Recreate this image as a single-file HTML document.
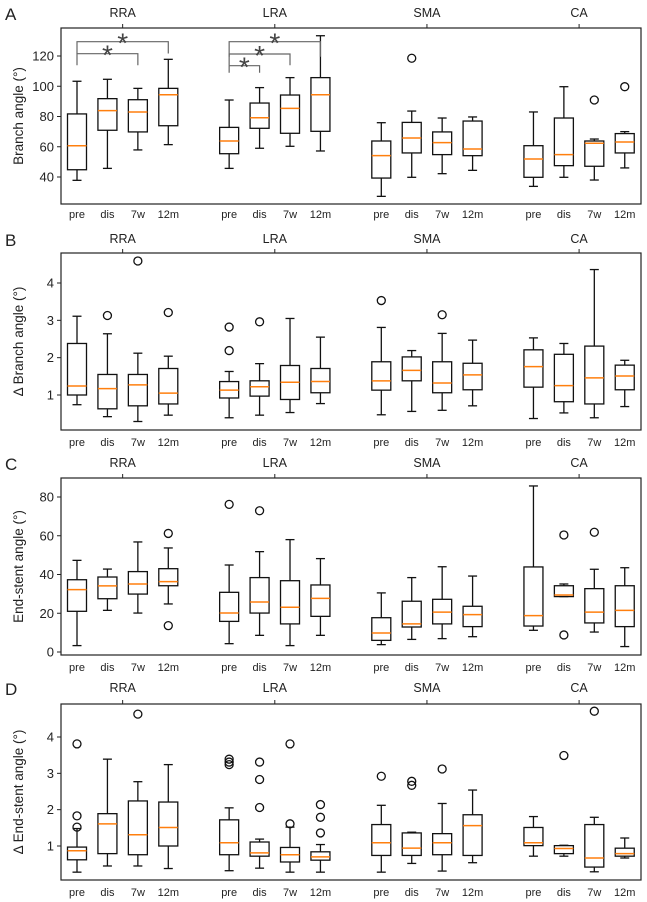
<!DOCTYPE html>
<html><head><meta charset="utf-8"><style>
html,body{margin:0;padding:0;background:#fff;}
svg{display:block;font-family:"Liberation Sans","DejaVu Sans",sans-serif;}
</style></head><body>
<svg id="fig" width="647" height="902" viewBox="0 0 647 902" xmlns="http://www.w3.org/2000/svg"></svg>
<script>
// ---- data ----
const groups = ["RRA","LRA","SMA","CA"];
const timepoints = ["pre","dis","7w","12m"];
// each box: [whisker low, q1, median, q3, whisker high, ...outliers]
const branchAngle = [
 [37.8,44.8,60.7,81.7,103.3],[45.7,70.9,83.9,91.8,104.6],[57.9,69.8,83,91.1,98.6],[61.4,73.9,94.4,98.6,117.8],
 [45.7,55.4,63.8,72.8,90.9],[59,72.2,79.2,88.9,99.1],[60.3,68.9,85.4,94.2,105.7],[57.2,70.2,94.4,105.7,133.4],
 [27.2,39.3,54.1,63.8,75.9],[39.8,55.9,65.8,76.1,83.6,118.5],[42.2,54.8,62.7,69.8,79],[44.4,54.1,58.5,77,79.7],
 [33.8,39.8,51.9,60.7,83],[39.8,47.5,54.8,79,99.7],[38,47.1,62.3,63.8,65.1,90.9],[46,55.9,63.1,68.7,70,99.7]
];
const deltaBranch = [
 [0.74,1,1.24,2.38,3.11],[0.42,0.63,1.17,1.55,2.64,3.13],[0.29,0.71,1.27,1.55,2.12,4.59],[0.46,0.76,1.05,1.71,2.04,3.21],
 [0.39,0.92,1.13,1.36,1.63,2.82,2.19],[0.46,0.97,1.22,1.38,1.84,2.96],[0.53,0.88,1.34,1.79,3.05],[0.77,1.06,1.36,1.71,2.55],
 [0.47,1.13,1.38,1.89,2.81,3.53],[0.56,1.38,1.66,2.02,2.19],[0.59,1.06,1.32,1.89,2.65,3.15],[0.71,1.14,1.54,1.85,2.47],
 [0.37,1.21,1.76,2.21,2.53],[0.52,0.82,1.25,2.09,2.38],[0.39,0.76,1.46,2.31,4.36],[0.69,1.14,1.51,1.8,1.93]
];
const endStent = [
 [3.3,21,32.2,37.3,47.3],[21.5,27.5,34.1,38.7,42.8],[20.1,29.9,35.1,41.5,56.8],[24.8,34.2,36.3,43,53.7,61.2,13.6],
 [4.3,15.8,20.1,30.8,44.9,76.2],[8.6,20.1,25.8,38.4,51.8,72.9],[3.3,14.5,23.1,36.8,58],[8.6,18.4,27.7,34.6,48.2],
 [3.8,6,9.8,17.7,30.5],[6.5,12.9,14.5,26.2,38.4],[6.9,14.5,20.6,27.2,44],[7.9,13.1,19.3,23.6,39.2],
 [11.2,13.4,18.8,43.9,85.7],[28.6,28.6,29.4,34.2,35.1,60.4,8.8],[10.3,15,20.6,32.7,42.7,61.8],[2.8,13.1,21.5,34.2,43.5]
];
const deltaEndStent = [
 [0.28,0.62,0.87,0.97,1.48,3.81,1.83,1.52],[0.45,0.79,1.61,1.89,3.39],[0.45,0.76,1.31,2.24,2.77,4.63],[0.38,1,1.51,2.21,3.24],
 [0.32,0.76,1.09,1.72,2.05,3.39,3.31,3.24],[0.39,0.72,0.81,1.11,1.19,3.31,2.83,2.06],[0.28,0.56,0.76,0.96,1.52,3.81,1.61],[0.28,0.61,0.7,0.84,1.04,2.14,1.79,1.36],
 [0.28,0.74,1.09,1.59,2.12,2.92],[0.52,0.74,0.94,1.36,1.38,2.78,2.67],[0.31,0.76,1.09,1.34,2.17,3.12],[0.54,0.74,1.56,1.86,2.54],
 [0.72,1.01,1.09,1.51,1.81],[0.72,0.79,0.93,1.01,1.02,3.49],[0.29,0.42,0.67,1.59,1.79,4.71],[0.67,0.72,0.79,0.94,1.22]
];
const ticksA = [40,60,80,100,120];
const ticksB = [1,2,3,4];
const ticksC = [0,20,40,60,80];
const ticksD = [1,2,3,4];
// significance: [group index, from timepoint, to timepoint]
const sigPairs = [[0,0,2],[0,0,3],[1,0,1],[1,0,2],[1,0,3]];

// ---- layout ----
const NS="http://www.w3.org/2000/svg";
const svg=document.getElementById('fig');
const X0=61, X1=641;
function xPos(g,t){ return 77 + (g*5+t)*30.43; }
function mk(tag,attrs,parent){const e=document.createElementNS(NS,tag);for(const k in attrs)e.setAttribute(k,attrs[k]);(parent||svg).appendChild(e);return e;}
const panels=[
 {letter:"A",label:"Branch angle (°)",data:branchAngle,ticks:ticksA,top:28,bot:204,v1:40,p1:177,v2:120,p2:56,gy:17,ty:218,ly:20,name:"branch-angle"},
 {letter:"B",label:"Δ Branch angle (°)",data:deltaBranch,ticks:ticksB,top:253,bot:430,v1:1,p1:395,v2:4,p2:283,gy:243,ty:446,ly:246,name:"delta-branch-angle"},
 {letter:"C",label:"End-stent angle (°)",data:endStent,ticks:ticksC,top:478,bot:655,v1:0,p1:652,v2:80,p2:497,gy:467,ty:671,ly:470,name:"end-stent-angle"},
 {letter:"D",label:"Δ End-stent angle (°)",data:deltaEndStent,ticks:ticksD,top:704,bot:880,v1:1,p1:846,v2:4,p2:737,gy:692,ty:896,ly:695,name:"delta-end-stent-angle"}
];
panels.forEach((P,pi)=>{
  const y=v=>P.p1+(v-P.v1)*(P.p2-P.p1)/(P.v2-P.v1);
  const g=mk('g',{});
  
  
  const L=mk('text',{x:5,y:P.ly,'font-size':17,fill:'#222'},g);L.textContent=P.letter;
  
  
  P.ticks.forEach(t=>{
    const yy=y(t);
    mk('line',{x1:X0-4,x2:X0,y1:yy,y2:yy,stroke:'#222','stroke-width':1},g);
    const tx=mk('text',{x:X0-7,y:yy+4.5,'font-size':13,'text-anchor':'end',fill:'#222'},g);tx.textContent=t;
    
    
  });
  const yl=mk('text',{x:0,y:0,'font-size':13.5,'text-anchor':'middle',fill:'#222',transform:`translate(23,${(P.top+P.bot)/2}) rotate(-90)`},g);
  yl.textContent=P.label;
  
  
  groups.forEach((gn,gi)=>{
    const cx=(xPos(gi,0)+xPos(gi,3))/2;
    mk('line',{x1:cx,x2:cx,y1:P.top-4,y2:P.top,stroke:'#222','stroke-width':1},g);
    const gt=mk('text',{x:cx,y:P.gy,'font-size':12.5,'text-anchor':'middle',fill:'#222'},g);gt.textContent=gn;
    
    
    timepoints.forEach((tp,ti)=>{
      const x=xPos(gi,ti);
      const tt=mk('text',{x:x,y:P.ty,'font-size':11,'text-anchor':'middle',fill:'#222'},g);tt.textContent=tp;
      
      
      const d=P.data[gi*4+ti];
      const bg=mk('g',{stroke:'#111','stroke-width':1.3,fill:'none'},g);
      
      
      const hw=9.5, cw=4.5;
      mk('line',{x1:x,x2:x,y1:y(d[0]),y2:y(d[1])},bg);
      mk('line',{x1:x,x2:x,y1:y(d[3]),y2:y(d[4])},bg);
      mk('line',{x1:x-cw,x2:x+cw,y1:y(d[0]),y2:y(d[0])},bg);
      mk('line',{x1:x-cw,x2:x+cw,y1:y(d[4]),y2:y(d[4])},bg);
      mk('rect',{x:x-hw,y:y(d[3]),width:2*hw,height:Math.max(0.5,y(d[1])-y(d[3]))},bg);
      mk('line',{x1:x-hw,x2:x+hw,y1:y(d[2]),y2:y(d[2]),stroke:'#ff7f0e','stroke-width':1.5},bg);
      for(let k=5;k<d.length;k++) mk('circle',{cx:x,cy:y(d[k]),r:4},bg);
    });
  });
  const fr=mk('rect',{x:X0,y:P.top,width:X1-X0,height:P.bot-P.top,fill:'none',stroke:'#222','stroke-width':1.2},g);
  
  
  if(pi===0){
    const levels=[[53.7,65.3],[41.7,53.5]];
    const lrLevels=[[65.7,72.7],[54,65.3],[41.7,56.7]];
    sigPairs.forEach((s,si)=>{
      const lv = s[0]===0 ? levels[si] : lrLevels[si-2];
      const xa=xPos(s[0],s[1]), xb=xPos(s[0],s[2]);
      const sg=mk('g',{stroke:'#666','stroke-width':1.2,fill:'none'},g);
      
      
      mk('polyline',{points:`${xa},${lv[1]} ${xa},${lv[0]} ${xb},${lv[0]} ${xb},${lv[1]}`},sg);
      const st=mk('text',{x:(xa+xb)/2,y:lv[0]+11,'font-size':28,'text-anchor':'middle',fill:'#444',stroke:'none'},sg);
      st.textContent='*';
    });
  }
});
</script>
</body></html>
